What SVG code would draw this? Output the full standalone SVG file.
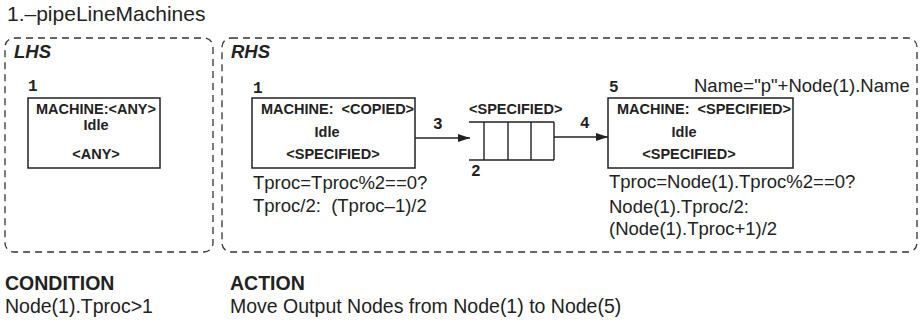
<svg xmlns="http://www.w3.org/2000/svg" width="922" height="322" viewBox="0 0 922 322">
  <style>
    .frame { fill: none; stroke: #333; stroke-width: 1.3; stroke-dasharray: 7 5; }
    .box { fill: #fff; stroke: #222; stroke-width: 1.5; }
    .line { fill: none; stroke: #222; stroke-width: 1.4; }
    .hdr { font-family: "Liberation Sans", Arial, sans-serif; font-weight: bold; font-style: italic; font-size: 18.5px; fill: #222; }
    .title { font-family: "Liberation Sans", Arial, sans-serif; font-size: 21px; fill: #222; }
    .nt { font-family: "Liberation Sans", Arial, sans-serif; font-weight: bold; font-size: 14.5px; fill: #222; }
    .ann { font-family: "Liberation Sans", Arial, sans-serif; font-size: 18.5px; fill: #222; }
    .num { font-family: "Liberation Mono", "Courier New", monospace; font-weight: bold; font-size: 16px; fill: #222; }
    .foot { font-family: "Liberation Sans", Arial, sans-serif; font-size: 19.5px; fill: #222; }
    .foot-b { font-family: "Liberation Sans", Arial, sans-serif; font-weight: bold; font-size: 19.5px; fill: #222; }
  </style>
  <defs>
    <marker id="arrowhead" viewBox="0 0 12 8" refX="12" refY="4" markerWidth="12" markerHeight="8" markerUnits="userSpaceOnUse" orient="auto">
      <path d="M0,0 L12,4 L0,8 z" fill="#222"/>
    </marker>
  </defs>

  <rect width="922" height="322" fill="#fff"/>

  <text class="title" x="7" y="21">1.–pipeLineMachines</text>

  <!-- rule panels -->
  <g id="lhs-panel">
    <rect class="frame" x="5" y="38" width="208" height="214" rx="9" ry="9"/>
    <text class="hdr" x="14" y="58">LHS</text>
  </g>
  <g id="rhs-panel">
    <rect class="frame" x="222" y="38" width="695" height="214" rx="9" ry="9"/>
    <text class="hdr" x="231" y="58">RHS</text>
  </g>

  <!-- left-hand side machine -->
  <g id="lhs-node-1">
    <text class="num" x="28" y="91">1</text>
    <rect class="box" x="28" y="98" width="132" height="70"/>
    <text class="nt" x="96" y="114" text-anchor="middle">MACHINE:&lt;ANY&gt;</text>
    <text class="nt" x="96" y="130" text-anchor="middle">Idle</text>
    <text class="nt" x="96" y="159" text-anchor="middle">&lt;ANY&gt;</text>
  </g>

  <!-- right-hand side: copied machine -->
  <g id="rhs-node-1">
    <text class="num" x="253" y="93">1</text>
    <rect class="box" x="252" y="98" width="163" height="70"/>
    <text class="nt" x="261" y="114" xml:space="preserve">MACHINE:  &lt;COPIED&gt;</text>
    <text class="nt" x="327" y="137" text-anchor="middle">Idle</text>
    <text class="nt" x="333" y="159" text-anchor="middle">&lt;SPECIFIED&gt;</text>
    <text class="ann" x="253" y="189">Tproc=Tproc%2==0?</text>
    <text class="ann" x="253" y="212" xml:space="preserve">Tproc/2:  (Tproc–1)/2</text>
  </g>

  <!-- right-hand side: buffer queue -->
  <g id="rhs-node-2">
    <text class="nt" x="469" y="114">&lt;SPECIFIED&gt;</text>
    <path class="line" d="M469,122 H554 M469,160 H554 M484,122 V160 M508,122 V160 M531,122 V160 M554,122 V160"/>
    <text class="num" x="471" y="176">2</text>
  </g>

  <!-- right-hand side: new machine -->
  <g id="rhs-node-5">
    <text class="num" x="609" y="92">5</text>
    <text class="ann" x="694" y="92">Name="p"+Node(1).Name</text>
    <rect class="box" x="608" y="98" width="185" height="70"/>
    <text class="nt" x="617" y="114" xml:space="preserve">MACHINE:  &lt;SPECIFIED&gt;</text>
    <text class="nt" x="684" y="137" text-anchor="middle">Idle</text>
    <text class="nt" x="689" y="159" text-anchor="middle">&lt;SPECIFIED&gt;</text>
    <text class="ann" x="609" y="188">Tproc=Node(1).Tproc%2==0?</text>
    <text class="ann" x="609" y="213">Node(1).Tproc/2:</text>
    <text class="ann" x="609" y="235">(Node(1).Tproc+1)/2</text>
  </g>

  <!-- connectors -->
  <g id="connectors">
    <line class="line" x1="415" y1="138" x2="470" y2="138" marker-end="url(#arrowhead)"/>
    <text class="num" x="433" y="129">3</text>
    <line class="line" x1="554" y1="137" x2="608" y2="137" marker-end="url(#arrowhead)"/>
    <text class="num" x="580" y="128">4</text>
  </g>

  <!-- condition and action -->
  <text class="foot-b" x="5" y="290">CONDITION</text>
  <text class="foot" x="5" y="313">Node(1).Tproc&gt;1</text>
  <text class="foot-b" x="230" y="290">ACTION</text>
  <text class="foot" x="230" y="313">Move Output Nodes from Node(1) to Node(5)</text>
</svg>
